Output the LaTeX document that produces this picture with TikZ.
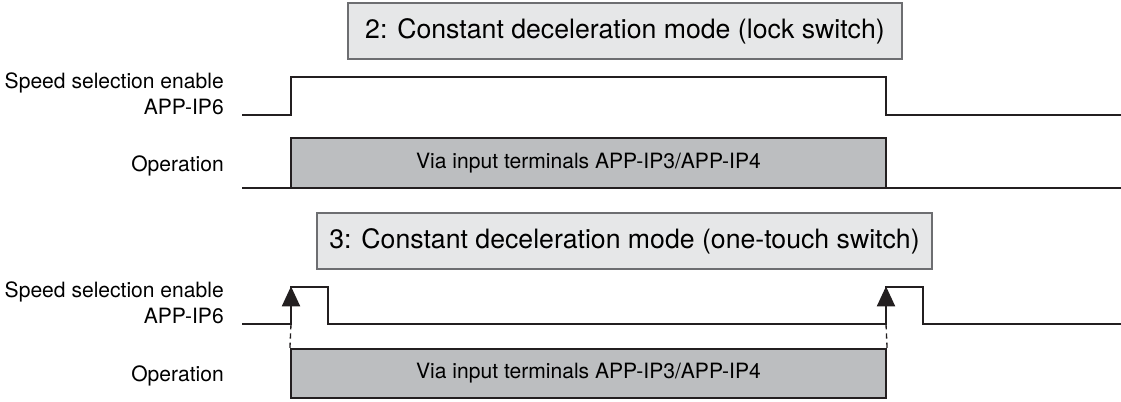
\documentclass[tikz,border=0pt]{standalone}
\usepackage{fontspec}
\setmainfont{TeX Gyre Heros}
\usetikzlibrary{arrows.meta}
\definecolor{titlefill}{HTML}{E6E7E8}
\definecolor{titleedge}{HTML}{6D6E71}
\definecolor{opfill}{HTML}{BCBEC0}
\definecolor{sig}{HTML}{231F20}
\tikzset{
  x=0.75pt, y=-0.75pt,
  lbl/.style={anchor=east, inner sep=0pt, font=\fontsize{15.8}{18}\selectfont},
  titlebox/.style={draw=titleedge, line width=1pt, fill=titlefill, inner sep=0pt, font=\fontsize{20}{24}\selectfont},
  opbox/.style={draw=sig, line width=1.6pt, fill=opfill, inner sep=0pt, font=\fontsize{15.8}{18}\selectfont},
  signal/.style={draw=sig, line width=1.5pt, line join=miter},
  pulsearrow/.style={draw=sig, line width=1.5pt, -{Triangle[length=15pt,width=13.5pt]}, shorten >=-0.5pt},
  guide/.style={draw=sig, line width=1pt, dash pattern=on 4pt off 3pt},
}
\begin{document}
\begin{tikzpicture}
\useasboundingbox (0,0) rectangle (1121,402);
% ---------- Mode 2 ----------
\node[titlebox, minimum width=554*0.75pt, minimum height=56*0.75pt] (t2) at (625,31) {2: Constant deceleration mode (lock switch)};
\node[lbl] (s2a) at (224,83) {Speed selection enable};
\node[lbl] (s2b) at (224,107) {APP-IP6};
\node[lbl] (o2) at (224,166) {Operation};
\coordinate (a0) at (242,115);
\coordinate (a1) at (291,115);
\coordinate (a2) at (291,77);
\coordinate (a3) at (886,77);
\coordinate (a4) at (886,115);
\coordinate (a5) at (1121,115);
\draw[signal] (a0) -- (a1) -- (a2) -- (a3) -- (a4) -- (a5);
\coordinate (b0) at (242,188);
\coordinate (b1) at (1121,188);
\draw[signal] (b0) -- (b1);
\node[opbox, minimum width=595*0.75pt, minimum height=50*0.75pt] (op2) at (588.5,163) {Via input terminals APP-IP3/APP-IP4};
% ---------- Mode 3 ----------
\node[titlebox, minimum width=615*0.75pt, minimum height=56*0.75pt] (t3) at (624.5,241) {3: Constant deceleration mode (one-touch switch)};
\node[lbl] (s3a) at (224,292) {Speed selection enable};
\node[lbl] (s3b) at (224,316) {APP-IP6};
\node[lbl] (o3) at (224,376) {Operation};
\coordinate (c0) at (242,324);
\coordinate (c1) at (291,324);
\coordinate (c2) at (291,287);
\coordinate (c3) at (328,287);
\coordinate (c4) at (328,324);
\coordinate (c5) at (886,324);
\coordinate (c6) at (886,287);
\coordinate (c7) at (923,287);
\coordinate (c8) at (923,324);
\coordinate (c9) at (1121,324);
\draw[signal] (c0) -- (c1) -- (c2) -- (c3) -- (c4) -- (c5) -- (c6) -- (c7) -- (c8) -- (c9);
\draw[pulsearrow] (c1) -- (c2);
\draw[pulsearrow] (c5) -- (c6);
\node[opbox, minimum width=595*0.75pt, minimum height=49*0.75pt] (op3) at (588.5,373.5) {Via input terminals APP-IP3/APP-IP4};
\draw[guide] (c1) -- (op3.north west);
\draw[guide] (c5) -- (op3.north east);
\end{tikzpicture}
\end{document}
